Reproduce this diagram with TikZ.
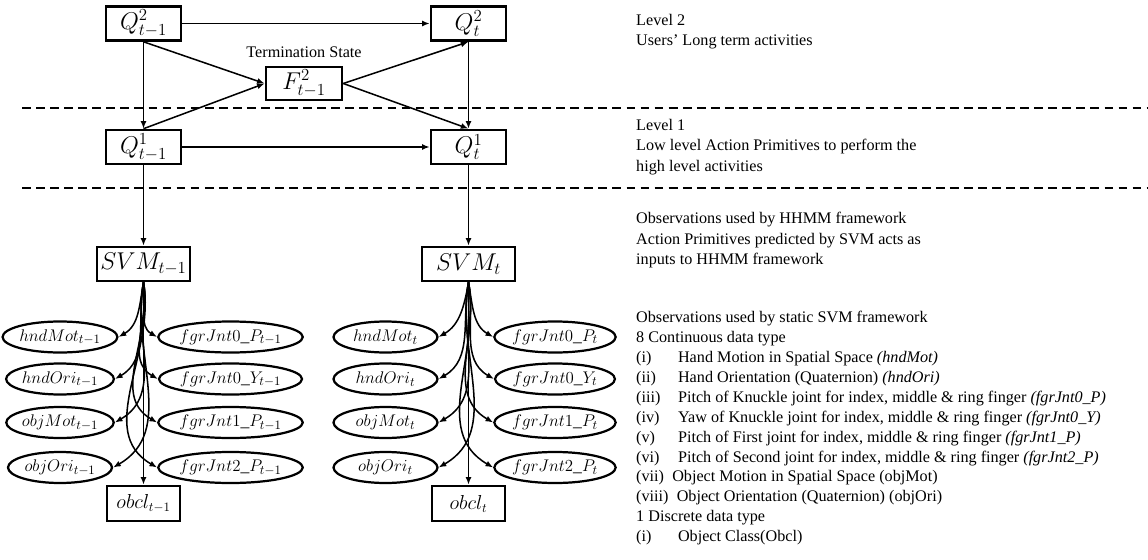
\documentclass[tikz,border=0pt]{standalone}
\usepackage{fontspec}
\setmainfont{Liberation Serif}
\usetikzlibrary{positioning,shapes.geometric,arrows.meta}
\newcommand{\itm}[1]{\makebox[35.7pt][l]{#1}}

\begin{document}
\begin{tikzpicture}[x=0.03cm, y=-0.03cm]
    % Styles
    \tikzstyle{hstate} = [rectangle, draw, line width=2.2pt, minimum width=2.25cm, minimum height=1.02cm, inner sep=1pt, font=\fontsize{20}{22}\selectfont]
    \tikzstyle{svm} = [hstate, minimum width=2.79cm]
    \tikzstyle{cls} = [hstate, minimum width=2.19cm, minimum height=1.05cm, font=\fontsize{16}{18}\selectfont]
    \tikzstyle{feat} = [ellipse, draw, line width=1.9pt, minimum width=3.12cm, minimum height=0.93cm, inner sep=0pt, font=\fontsize{15}{17}\selectfont]
    \tikzstyle{arrow} = [-{Latex[length=2.3mm,width=1.8mm]}, line width=1.3pt]
    \tikzstyle{level} = [dash pattern=on 7.5pt off 4.5pt, line width=1.4pt]
    \tikzstyle{note} = [align=left, anchor=north west, inner sep=0pt, font=\fontsize{13.8}{17.5}\selectfont]

    \useasboundingbox (0,0) rectangle (1148,560);

    % Level separators
    \draw[level] (22,108) -- (1148,108);
    \draw[level] (22,188) -- (1148,188);

    % HHMM states - explicit coordinates
    \node[hstate] (q2p) at (143.5,23.5) {$Q^2_{t-1}$};
    \node[hstate] (q2t) at (468.5,23.5) {$Q^2_t$};
    \node[hstate, minimum width=2.28cm, minimum height=0.99cm] (f2p) at (304,83.5) {$F^2_{t-1}$};
    \node[above=0.22cm of f2p, inner sep=0pt, font=\fontsize{13.8}{16}\selectfont] (term) {Termination State};
    \node[hstate] (q1p) at (143.5,147) {$Q^1_{t-1}$};
    \node[hstate] (q1t) at (468.5,147) {$Q^1_t$};

    % SVM Nodes
    \node[svm] (svmp) at (143.5,264) {$SVM_{t-1}$};
    \node[svm] (svmt) at (468.5,264) {$SVM_t$};

    % Object class Nodes
    \node[cls] (obclp) at (143.5,503.5) {$obcl_{t-1}$};
    \node[cls] (obclt) at (468.5,503.5) {$obcl_t$};

    % Feature Nodes and their arrows
    \foreach \s/\sub/\lx/\rx in {p/{t-1}/60/230.5, t/t/385.5/555} {
        \foreach \n/\lname/\rname/\y in {1/hndMot/fgrJnt0\_P/337, 2/hndOri/fgrJnt0\_Y/379, 3/objMot/fgrJnt1\_P/422.5, 4/objOri/fgrJnt2\_P/467.5} {
            \node[feat] (l\n\s) at (\lx,\y) {$\lname_{\sub}$};
            \node[feat] (r\n\s) at (\rx,\y) {$\rname_{\sub}$};
            \draw[arrow] (svm\s.south) to[out=-100, in=30] (l\n\s.east);
            \draw[arrow] (svm\s.south) to[out=-80, in=150] (r\n\s.west);
        }
    }

    % Arrows
    \draw[arrow] (q2p) -- (q2t);
    \draw[arrow] (q1p) -- (q1t);
    \draw[arrow] (q2p.south) -- (q1p.north);
    \draw[arrow] (q2t.south) -- (q1t.north);
    \draw[arrow] (q2p.south) -- (f2p.west);
    \draw[arrow] (q1p.north) -- (f2p.west);
    \draw[arrow] (f2p.east) -- (q2t.south);
    \draw[arrow] (f2p.east) -- (q1t.north);
    \draw[arrow] (q1p) -- (svmp);
    \draw[arrow] (q1t) -- (svmt);
    \draw[arrow] (svmp) -- (obclp);
    \draw[arrow] (svmt) -- (obclt);

    % Notes
    \node[note] (lvl2) at (636,14) {Level 2\\Users’ Long term activities};
    \node[note] (lvl1) at (636,119) {Level 1\\Low level Action Primitives to perform the\\high level activities};
    \node[note] (obshhmm) at (636,212) {Observations used by HHMM framework\\Action Primitives predicted by SVM acts as\\inputs to HHMM framework};
    \node[note, font=\fontsize{13.8}{17}\selectfont] (obssvm) at (636,311) {Observations used by static SVM framework\\
        8 Continuous data type\\
        \itm{(i)}Hand Motion in Spatial Space \textit{(hndMot)}\\
        \itm{(ii)}Hand Orientation (Quaternion) \textit{(hndOri)}\\
        \itm{(iii)}Pitch of Knuckle joint for index, middle \& ring finger \textit{(fgrJnt0\_P)}\\
        \itm{(iv)}Yaw of Knuckle joint for index, middle \& ring finger \textit{(fgrJnt0\_Y)}\\
        \itm{(v)}Pitch of First joint for index, middle \& ring finger \textit{(fgrJnt1\_P)}\\
        \itm{(vi)}Pitch of Second joint for index, middle \& ring finger \textit{(fgrJnt2\_P)}\\
        (vii)\hspace{7pt}Object Motion in Spatial Space (objMot)\\
        (viii)\hspace{7pt}Object Orientation (Quaternion) (objOri)\\
        1 Discrete data type\\
        \itm{(i)}Object Class(Obcl)};
\end{tikzpicture}
\end{document}
